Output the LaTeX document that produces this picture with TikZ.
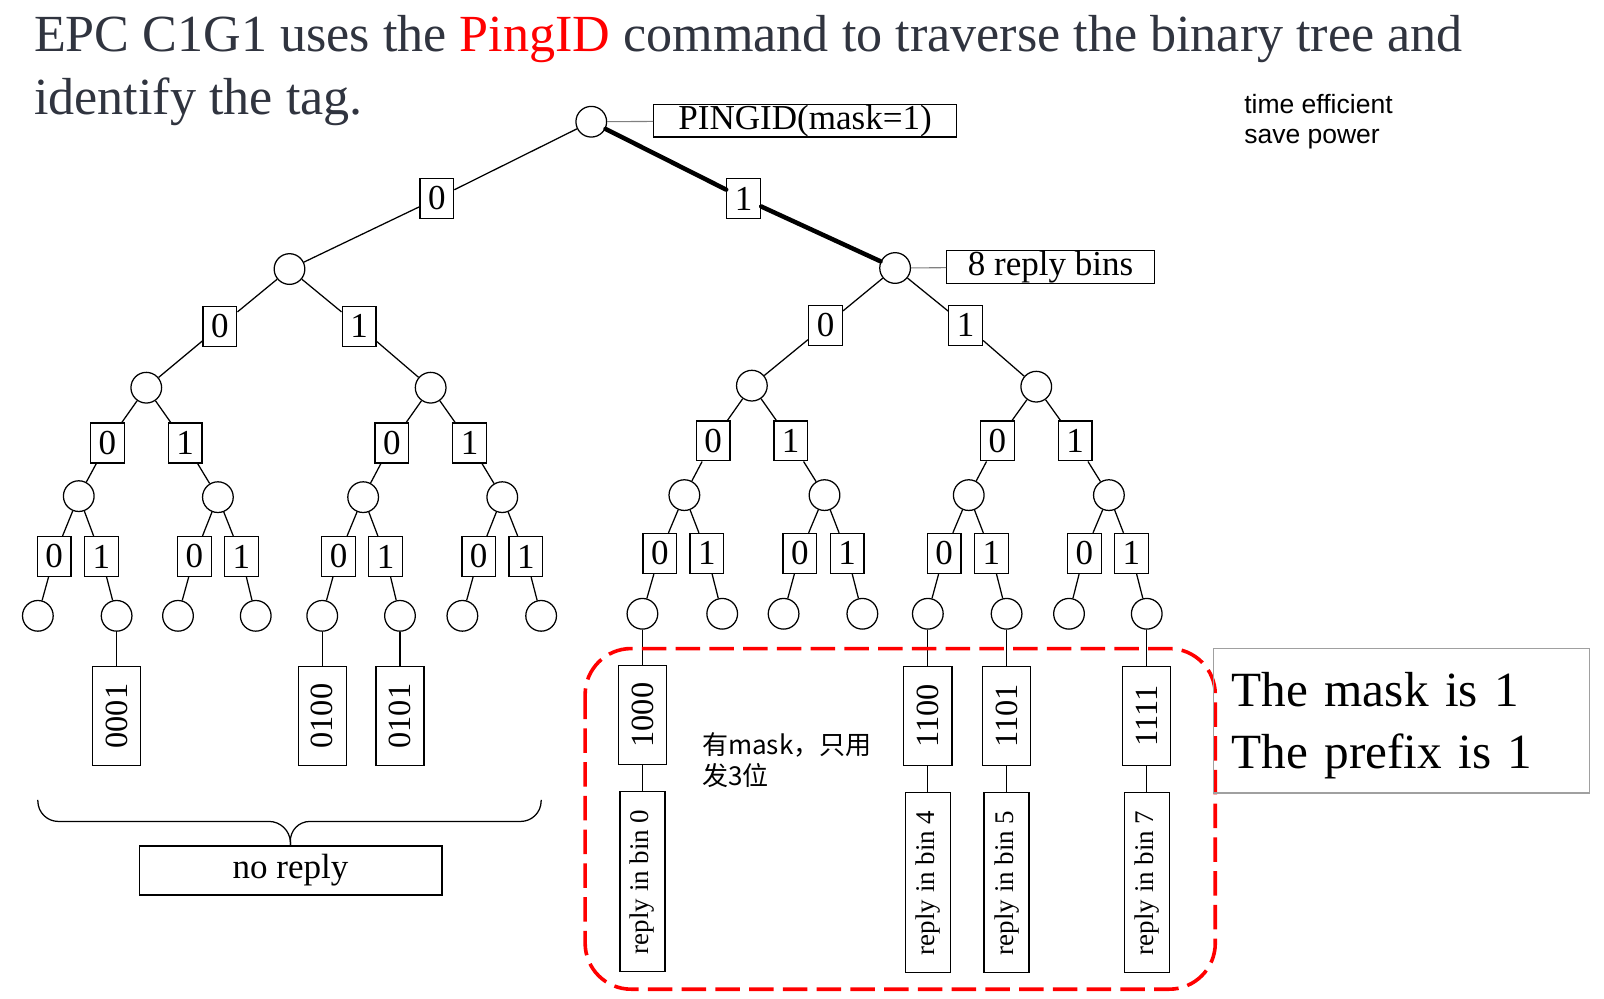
\documentclass[tikz,border=0pt]{standalone}
\usepackage{fontspec}
\usepackage{xcolor}
\usepackage{tikz}
\newfontfamily\timesfont{Liberation Serif}
\newfontfamily\arialfont{Liberation Sans}
\newfontfamily\cjkfont{Noto Sans CJK SC}
\definecolor{titlegray}{HTML}{30343F}
\definecolor{pingred}{HTML}{FF0000}
\definecolor{linkgray}{HTML}{808080}
\definecolor{framegray}{HTML}{A0A0A0}
\newcommand{\treefont}{\timesfont\fontsize{19.5}{23}\selectfont}
\newcommand{\tagfont}{\timesfont\fontsize{18}{21}\selectfont}
\newcommand{\binfont}{\timesfont\fontsize{15}{18}\selectfont}
\newcommand{\headfont}{\timesfont\fontsize{29}{35}\selectfont}
\tikzset{
  vertex/.style={circle, draw, line width=0.7pt, minimum size=0.6cm, inner sep=0pt},
  bitbox/.style={rectangle, draw, line width=0.7pt, fill=white, minimum width=0.66cm,
                 minimum height=0.78cm, inner sep=0pt, font=\treefont},
  tagbox/.style={rectangle, draw, line width=0.7pt, fill=white, rotate=90, minimum width=1.94cm,
                 minimum height=0.94cm, inner sep=0pt, font=\tagfont},
  binbox/.style={rectangle, draw, line width=0.7pt, fill=white, rotate=90, minimum width=3.52cm,
                 minimum height=0.88cm, inner sep=0pt, font=\binfont},
  labelbox/.style={rectangle, draw, line width=0.7pt, inner sep=0pt, font=\treefont},
  edge/.style={line width=0.7pt},
  hot/.style={line width=2.5pt, line cap=round},
}

\begin{document}
\begin{tikzpicture}[x=0.02cm, y=-0.02cm]
\useasboundingbox (0,0) rectangle (1568,976);

\node[anchor=base west, inner sep=0pt, text=titlegray, font=\headfont] (title) at (33,50) {EPC C1G1 uses the \textcolor{pingred}{PingID} command to traverse the binary tree and};
\node[anchor=base west, inner sep=0pt, text=titlegray, font=\headfont] (title2) at (33,112) {identify the tag.};
\node[anchor=west, align=left, inner sep=0pt, font=\arialfont\fontsize{14.75}{17}\selectfont] (note) at (1216,119) {time efficient\\save power};

\node[vertex] (n) at (578,119) {};
\node[vertex] (n0) at (283,263) {};
\node[vertex] (n1) at (875,262) {};
\node[vertex] (n00) at (143,379) {};
\node[vertex] (n01) at (421,379) {};
\node[vertex] (n10) at (735,377) {};
\node[vertex] (n11) at (1013,378) {};
\node[vertex] (n000) at (77,485) {};
\node[vertex] (n001) at (213,486) {};
\node[vertex] (n010) at (355,486) {};
\node[vertex] (n011) at (491,486) {};
\node[vertex] (n100) at (669,484) {};
\node[vertex] (n101) at (806,484) {};
\node[vertex] (n110) at (947,484) {};
\node[vertex] (n111) at (1084,484) {};
\node[vertex] (n0000) at (37,602) {};
\node[vertex] (n0001) at (114,602) {};
\node[vertex] (n0010) at (174,602) {};
\node[vertex] (n0011) at (250,602) {};
\node[vertex] (n0100) at (315,602) {};
\node[vertex] (n0101) at (391,602) {};
\node[vertex] (n0110) at (452,602) {};
\node[vertex] (n0111) at (529,602) {};
\node[vertex] (n1000) at (628,600) {};
\node[vertex] (n1001) at (706,600) {};
\node[vertex] (n1010) at (766,600) {};
\node[vertex] (n1011) at (843,600) {};
\node[vertex] (n1100) at (907,600) {};
\node[vertex] (n1101) at (984,600) {};
\node[vertex] (n1110) at (1045,600) {};
\node[vertex] (n1111) at (1121,600) {};

\node[bitbox] (b0) at (427,194) {0};
\node[bitbox] (b1) at (727,194) {1};
\node[bitbox] (b00) at (215,319) {0};
\node[bitbox] (b01) at (351,319) {1};
\node[bitbox] (b10) at (807,318) {0};
\node[bitbox] (b11) at (944,318) {1};
\node[bitbox] (b000) at (105,433) {0};
\node[bitbox] (b001) at (181,433) {1};
\node[bitbox] (b010) at (383,433) {0};
\node[bitbox] (b011) at (459,433) {1};
\node[bitbox] (b100) at (697,431) {0};
\node[bitbox] (b101) at (773,431) {1};
\node[bitbox] (b110) at (975,431) {0};
\node[bitbox] (b111) at (1051,431) {1};
\node[bitbox] (b0000) at (53,544) {0};
\node[bitbox] (b0001) at (99,544) {1};
\node[bitbox] (b0010) at (190,544) {0};
\node[bitbox] (b0011) at (236,544) {1};
\node[bitbox] (b0100) at (331,544) {0};
\node[bitbox] (b0101) at (377,544) {1};
\node[bitbox] (b0110) at (468,544) {0};
\node[bitbox] (b0111) at (514,544) {1};
\node[bitbox] (b1000) at (645,541) {0};
\node[bitbox] (b1001) at (691,541) {1};
\node[bitbox] (b1010) at (782,541) {0};
\node[bitbox] (b1011) at (828,541) {1};
\node[bitbox] (b1100) at (923,541) {0};
\node[bitbox] (b1101) at (969,541) {1};
\node[bitbox] (b1110) at (1060,541) {0};
\node[bitbox] (b1111) at (1106,541) {1};

\draw[edge] (n) -- (b0) -- (n0);
\draw[hot] (n) -- (b1) -- (n1);
\draw[edge] (n0) -- (b00) -- (n00) (n0) -- (b01) -- (n01);
\draw[edge] (n1) -- (b10) -- (n10) (n1) -- (b11) -- (n11);
\draw[edge] (n00) -- (b000) -- (n000) (n00) -- (b001) -- (n001);
\draw[edge] (n01) -- (b010) -- (n010) (n01) -- (b011) -- (n011);
\draw[edge] (n10) -- (b100) -- (n100) (n10) -- (b101) -- (n101);
\draw[edge] (n11) -- (b110) -- (n110) (n11) -- (b111) -- (n111);
\draw[edge] (n000) -- (b0000) -- (n0000) (n000) -- (b0001) -- (n0001);
\draw[edge] (n001) -- (b0010) -- (n0010) (n001) -- (b0011) -- (n0011);
\draw[edge] (n010) -- (b0100) -- (n0100) (n010) -- (b0101) -- (n0101);
\draw[edge] (n011) -- (b0110) -- (n0110) (n011) -- (b0111) -- (n0111);
\draw[edge] (n100) -- (b1000) -- (n1000) (n100) -- (b1001) -- (n1001);
\draw[edge] (n101) -- (b1010) -- (n1010) (n101) -- (b1011) -- (n1011);
\draw[edge] (n110) -- (b1100) -- (n1100) (n110) -- (b1101) -- (n1101);
\draw[edge] (n111) -- (b1110) -- (n1110) (n111) -- (b1111) -- (n1111);

\node[labelbox, minimum width=5.92cm, minimum height=0.64cm] (ping) at (787,118) {PINGID(mask=1)};
\node[labelbox, minimum width=4.06cm, minimum height=0.64cm] (bins) at (1027,261) {8 reply bins};
\draw[linkgray, line width=0.6pt] (n) -- (ping);
\draw[linkgray, line width=0.6pt] (n1) -- (bins);

\node[tagbox] (t0001) at (114,700) {0001};
\node[tagbox] (t0100) at (315,700) {0100};
\node[tagbox] (t0101) at (391,700) {0101};
\node[tagbox] (t1000) at (628,699) {1000};
\node[tagbox] (t1100) at (907,700) {1100};
\node[tagbox] (t1101) at (984,700) {1101};
\node[tagbox] (t1111) at (1121,700) {1111};
\draw[edge] (n0001) -- (t0001);
\draw[edge] (n0100) -- (t0100);
\draw[edge] (n0101) -- (t0101);
\draw[edge] (n1000) -- (t1000);
\draw[edge] (n1100) -- (t1100);
\draw[edge] (n1101) -- (t1101);
\draw[edge] (n1111) -- (t1111);

\node[binbox] (r0) at (628,862) {reply in bin 0};
\node[binbox] (r4) at (907,863) {reply in bin 4};
\node[binbox] (r5) at (984,863) {reply in bin 5};
\node[binbox] (r7) at (1121,863) {reply in bin 7};
\draw[edge] (t1000) -- (r0);
\draw[edge] (t1100) -- (r4);
\draw[edge] (t1101) -- (r5);
\draw[edge] (t1111) -- (r7);

\node[labelbox, minimum width=5.92cm, minimum height=0.96cm] (noreply) at (284,851) {no reply};
\draw[edge, rounded corners=0.4cm] (37,782) |- (283,803) -- (noreply.north);
\draw[edge, rounded corners=0.4cm] (529,782) |- (283,803) -- (noreply.north);

\node[anchor=west, align=left, inner sep=0pt, font=\cjkfont\fontsize{14.5}{17}\selectfont] (hint) at (686,743) {有mask，只用\\发3位};

\draw[pingred, line width=2pt, dash pattern=on 0.48cm off 0.18cm, rounded corners=0.9cm] (572,634) rectangle (1188,967);

\node[draw=framegray, line width=0.8pt, text width=6.64cm, inner xsep=0.36cm, minimum height=2.82cm,
      align=left, font=\timesfont\fontsize{27.4}{34.6}\selectfont] (mask) at (1370,704.5) {\rule{0pt}{0.86cm}The mask is 1\\The prefix is 1};
\end{tikzpicture}
\end{document}
